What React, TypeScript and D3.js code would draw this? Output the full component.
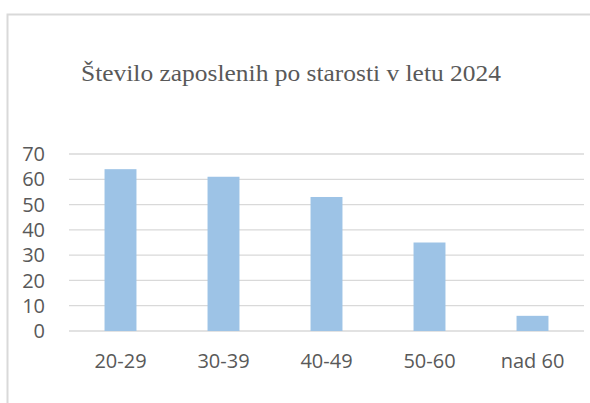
import React from "react";
import * as d3 from "d3";

const categories = ["20-29", "30-39", "40-49", "50-60", "nad 60"];
const values = [64, 61, 53, 35, 6];
const yTicks = [0, 10, 20, 30, 40, 50, 60, 70];
const title = "Število zaposlenih po starosti v letu 2024";

export default function App() {
  const W = 590, H = 403;
  const x = d3.scaleBand<string>().domain(categories).range([69, 584]).padding(0);
  const y = d3.scaleLinear().domain([0, 70]).range([331, 154]);
  const barW = x.bandwidth() * 0.31;
  const sans = "'Open Sans', sans-serif";
  return (
    <svg width={W} height={H} style={{ position: "absolute", left: 0, top: 0, background: "#fff" }}>
      <rect x={0} y={0} width={W} height={H} fill="#fff" />
      <path d={`M7.5,${H} V14.5 H${W}`} fill="none" stroke="#d9d9d9" strokeWidth={2} />
      <text x={81} y={81} fontFamily="'Liberation Serif', serif" fontSize={23} fill="#595959" textLength={420} lengthAdjust="spacingAndGlyphs">{title}</text>
      {yTicks.map((t) => (
        <g key={t}>
          <line x1={69} x2={584} y1={y(t)} y2={y(t)} stroke="#d9d9d9" strokeWidth={1.3} />
          <text x={45} y={y(t)} dy="0.36em" textAnchor="end" fontFamily={sans} fontSize={20} fill="#595959">{t}</text>
        </g>
      ))}
      {categories.map((c, i) => {
        const cx = (x(c) as number) + x.bandwidth() / 2;
        return (
          <g key={c}>
            <rect x={cx - barW / 2} y={y(values[i])} width={barW} height={y(0) - y(values[i])} fill="#9dc3e6" />
            <text x={cx} y={368} textAnchor="middle" fontFamily={sans} fontSize={20} fill="#595959">{c}</text>
          </g>
        );
      })}
    </svg>
  );
}
